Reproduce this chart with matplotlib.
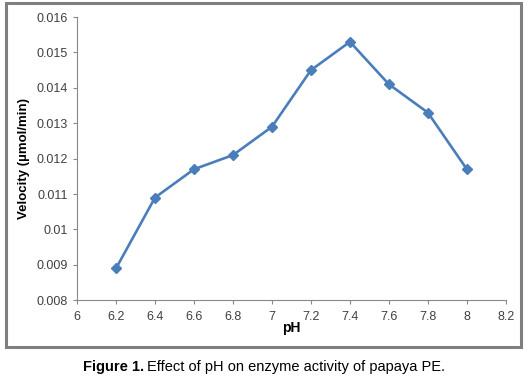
import matplotlib
matplotlib.use("Agg")
import matplotlib.pyplot as plt
import matplotlib.patches as mp

# pH vs enzyme velocity
ph = [6.2, 6.4, 6.6, 6.8, 7.0, 7.2, 7.4, 7.6, 7.8, 8.0]
velocity = [0.0089, 0.0109, 0.0117, 0.0121, 0.0129, 0.0145, 0.0153, 0.0141, 0.0133, 0.0117]
xticks = [6, 6.2, 6.4, 6.6, 6.8, 7, 7.2, 7.4, 7.6, 7.8, 8, 8.2]
xlabels = ["6", "6.2", "6.4", "6.6", "6.8", "7", "7.2", "7.4", "7.6", "7.8", "8", "8.2"]
yticks = [0.008, 0.009, 0.01, 0.011, 0.012, 0.013, 0.014, 0.015, 0.016]
ylabels = ["0.008", "0.009", "0.01", "0.011", "0.012", "0.013", "0.014", "0.015", "0.016"]

plt.rcParams["font.family"] = ["Liberation Sans", "DejaVu Sans"]
BLUE, GREY = "#4a7ebb", "#888888"

fig = plt.figure(figsize=(5.28, 3.79), dpi=100)
# outer frame around the chart
fig.patches.append(mp.Rectangle((0.012, 0.085), 0.975, 0.906, transform=fig.transFigure,
                                fill=False, ec="#7f7f7f", lw=2.2))
ax = fig.add_axes([0.146, 0.208, 0.812, 0.747])
ax.plot(ph, velocity, color=BLUE, lw=1.9, marker="D", ms=5, mfc=BLUE, mec=BLUE)
ax.set_xlim(6, 8.2); ax.set_ylim(0.008, 0.016)
ax.set_xticks(xticks, xlabels); ax.set_yticks(yticks, ylabels)
for s in ("top", "right"):
    ax.spines[s].set_visible(False)
for s in ("left", "bottom"):
    ax.spines[s].set_color(GREY); ax.spines[s].set_linewidth(0.8)
ax.tick_params(labelsize=9, colors="#404040", length=3, width=0.8, direction="out")
ax.tick_params(axis="x", pad=5)
ax.tick_params(axis="both", color=GREY)
ax.set_xlabel("pH", fontsize=10, fontweight="bold", labelpad=-2)
ax.set_ylabel("Velocity (µmol/min)", fontsize=9.5, fontweight="bold", labelpad=5)

t1 = fig.text(0.157, 0.032, "Figure 1.", fontsize=10.5, fontweight="bold", va="center")
fig.canvas.draw()
bb = t1.get_window_extent().transformed(fig.transFigure.inverted())
fig.text(bb.x1 + 0.006, 0.032, "Effect of pH on enzyme activity of papaya PE.",
         fontsize=10.5, va="center")
fig.savefig("out.png", dpi=100)
